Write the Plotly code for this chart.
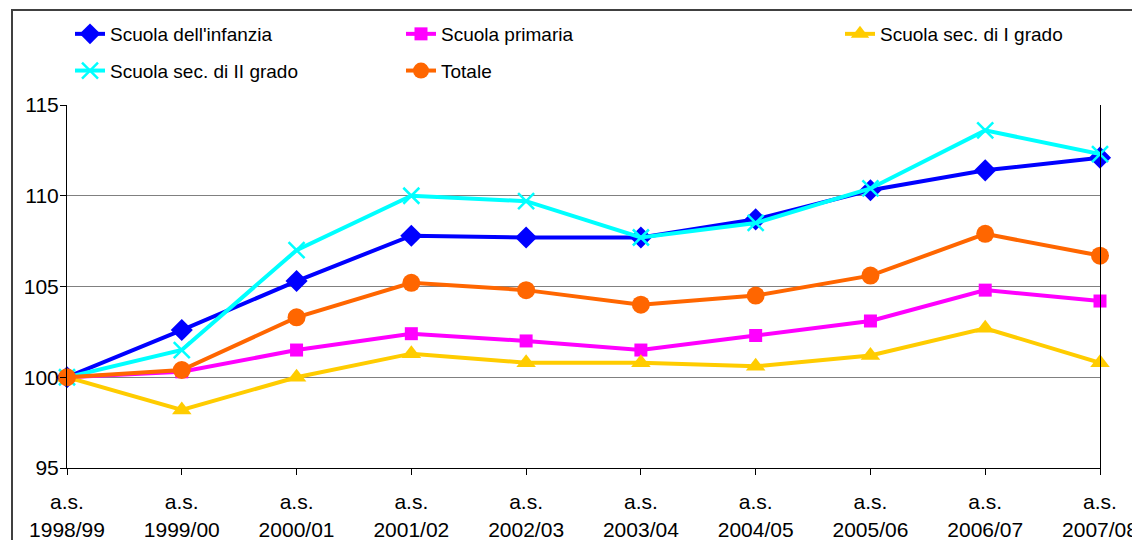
import plotly.graph_objects as go

anni = ["1998/99", "1999/00", "2000/01", "2001/02", "2002/03",
        "2003/04", "2004/05", "2005/06", "2006/07", "2007/08"]
etichette = ["a.s.<br>" + a for a in anni]

infanzia = [100, 102.6, 105.3, 107.8, 107.7, 107.7, 108.7, 110.3, 111.4, 112.1]
primaria = [100, 100.3, 101.5, 102.4, 102.0, 101.5, 102.3, 103.1, 104.8, 104.2]
sec_primo = [100, 98.2, 100.0, 101.3, 100.8, 100.8, 100.6, 101.2, 102.7, 100.8]
sec_secondo = [100, 101.5, 107.0, 110.0, 109.7, 107.7, 108.5, 110.4, 113.6, 112.3]
totale = [100, 100.4, 103.3, 105.2, 104.8, 104.0, 104.5, 105.6, 107.9, 106.7]

serie = [
    ("Scuola dell'infanzia", infanzia, "#0000FF", "diamond", 17, "legend"),
    ("Scuola primaria", primaria, "#FF00FF", "square", 13, "legend2"),
    ("Scuola sec. di I grado", sec_primo, "#FFCC00", "triangle-up", 17, "legend3"),
    ("Scuola sec. di II grado", sec_secondo, "#00FFFF", "x-thin", 16, "legend"),
    ("Totale", totale, "#FF6600", "circle", 18, "legend2"),
]

fig = go.Figure()
for nome, valori, colore, simbolo, dim, leg in serie:
    marker = dict(symbol=simbolo, size=dim, color=colore)
    if simbolo == "x-thin":
        marker["line"] = dict(color=colore, width=2.5)
    fig.add_trace(go.Scatter(
        x=etichette, y=valori, name=nome, mode="lines+markers",
        line=dict(color=colore, width=4), marker=marker,
        cliponaxis=False, legend=leg, legendgroup=nome,
    ))

# la pagina ha un margine di 8px: figura 1124x532,
# carta 59..1092 x 4..460, area del grafico in basso (97..460)
W, H = 1124, 532
T, B = 4, 72
carta_h = H - T - B
font_leg = dict(family="Liberation Sans", size=19, color="black")
leg_base = dict(orientation="v", yanchor="top", y=1 - 3 / carta_h, xanchor="left",
                bgcolor="rgba(0,0,0,0)", font=font_leg, tracegroupgap=9,
                traceorder="grouped", itemwidth=30)

fig.update_layout(
    width=W, height=H,
    margin=dict(l=59, r=W - 1092, t=T, b=B),
    paper_bgcolor="white", plot_bgcolor="white",
    font=dict(family="Liberation Sans", size=21, color="black"),
    legend=dict(leg_base, x=(62 - 59) / 1033),
    legend2=dict(leg_base, x=(393 - 59) / 1033),
    legend3=dict(leg_base, x=(832 - 59) / 1033),
    shapes=[dict(type="rect", xref="paper", yref="paper",
                 x0=(4 - 59) / 1033, x1=1.2, y0=-0.4, y1=(460 - 2) / carta_h,
                 line=dict(color="#404040", width=2), layer="below")],
)

fig.update_xaxes(
    type="category", range=[0, 9], showgrid=False, automargin=False,
    showline=True, linecolor="black", linewidth=1,
    ticks="outside", ticklen=6, tickcolor="black",
    tickfont=dict(size=21), ticklabelstandoff=9,
)
fig.update_yaxes(
    range=[95, 115], dtick=5, domain=[0, 363 / carta_h],
    showgrid=True, gridcolor="#808080", gridwidth=1,
    showline=True, mirror=True, linecolor="black", linewidth=1, automargin=False,
    ticks="outside", ticklen=6, tickcolor="black", zeroline=False,
    tickfont=dict(size=21), ticklabelstandoff=-3,
)

fig.write_html("out.html")
